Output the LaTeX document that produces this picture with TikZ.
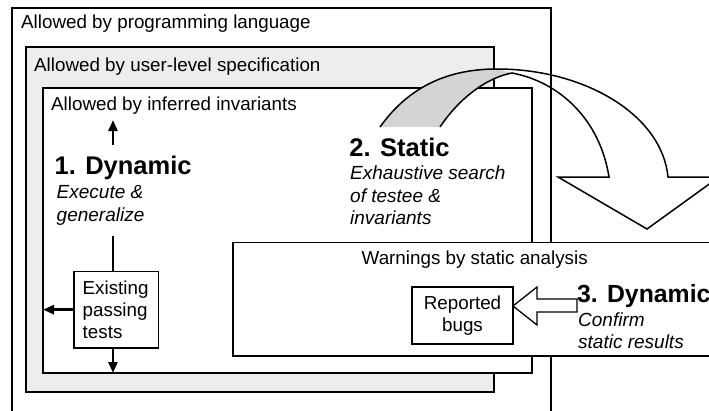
\documentclass[tikz,border=0pt]{standalone}
\usepackage{fontspec}
\setmainfont{Liberation Sans}
\usetikzlibrary{arrows.meta}
\definecolor{boxgray}{HTML}{EDEDED}
\definecolor{bandgray}{HTML}{D4D4D4}
\tikzset{
  box/.style={draw=black, line width=1.1pt, inner sep=0pt, outer sep=0pt, anchor=north west},
  lbl/.style={anchor=base west, inner sep=0pt, font=\fontsize{18.8}{22}\selectfont},
  ctr/.style={anchor=base, inner sep=0pt, font=\fontsize{18.8}{22}\selectfont},
  ital/.style={anchor=base west, inner sep=0pt, font=\fontsize{19}{22}\selectfont\itshape},
  head/.style={anchor=base west, inner sep=0pt, font=\bfseries\fontsize{25.5}{28}\selectfont},
  arr/.style={line width=2.6pt, -{Triangle[length=11pt,width=9pt]}},
  thick line/.style={line width=2.6pt},
  curve/.style={draw=black, line width=1.5pt, line join=miter},
  blockarrow/.style={draw=black, fill=white, line width=1.3pt, line join=miter},
}
\begin{document}
\begin{tikzpicture}[x=1pt,y=-1pt]
\useasboundingbox (0,0) rectangle (709,410);
\clip (0,0) rectangle (709,410);
\fill[white] (0,0) rectangle (709,410);

% nested regions
\node[box, fill=white, minimum width=539pt, minimum height=430pt] (outer) at (12,8) {};
\node[box, fill=boxgray, minimum width=468pt, minimum height=345pt] (spec) at (26,47) {};
\node[box, fill=white, minimum width=489pt, minimum height=285pt] (inv) at (43,88) {};

\node[lbl] (tlang) at (21,28.7) {Allowed by programming language};
\node[lbl] (tspec) at (34,71) {Allowed by user-level specification};
\node[lbl] (tinv) at (51,110) {Allowed by inferred invariants};

% curved (static) arrow
\fill[bandgray] (380,127) .. controls (410,85) and (450,69) .. (497,69)
  -- (512,73) .. controls (485,78) and (458,100) .. (440,127) -- cycle;
\draw[curve] (380,127) .. controls (410,85) and (450,69) .. (497,69)
  .. controls (585,69) and (662,115) .. (668,177)
  -- (719,177) -- (647,229) -- (558,177) -- (609,177)
  .. controls (600,120) and (560,82) .. (512,73)
  .. controls (485,78) and (458,100) .. (440,127);

% step 1
\coordinate (upt) at (113,145);
\coordinate (uph) at (113,120);
\draw[arr] (upt) -- (uph);
\node[head] (dyn1) at (54.4,174.3) {1. Dynamic};
\node[ital] (exe1) at (56.5,198.3) {Execute \&};
\node[ital] (exe2) at (56.5,221) {generalize};

\node[box, fill=white, minimum width=84.5pt, minimum height=76.7pt] (ept) at (74,271.3) {};
\node[lbl] (ept1) at (82.5,294.3) {Existing};
\node[lbl] (ept2) at (82.5,316.3) {passing};
\node[lbl] (ept3) at (82.5,338.3) {tests};
\coordinate (col) at (113,236);
\draw[thick line] (col) -- (col |- ept.north);
\draw[arr] (ept.west) -- (ept.west -| inv.west);
\draw[arr] (col |- ept.south) -- (col |- inv.south);

% step 2
\node[head] (st2) at (349.2,156) {2. Static};
\node[ital] (st2a) at (350,179.3) {Exhaustive search};
\node[ital] (st2b) at (350,202) {of testee \&};
\node[ital] (st2c) at (350,224.7) {invariants};

% warnings
\node[box, fill=white, minimum width=500pt, minimum height=113.5pt] (warn) at (233,242.5) {};
\node[lbl] (twarn) at (361.5,264) {Warnings by static analysis};
\node[box, fill=white, minimum width=101pt, minimum height=57pt] (rb) at (412,287) {};
\node[ctr] (rb1) at (462.5,309.3) {Reported};
\node[ctr] (rb2) at (462.5,331) {bugs};

% step 3
\draw[blockarrow] (rb.east |- 0,306) -- (537,287) -- (537,299) -- (577,299)
  -- (577,312) -- (537,312) -- (537,325) -- cycle;
\node[head, font=\bfseries\fontsize{24.8}{28}\selectfont] (dyn3) at (577,302.3) {3. Dynamic};
\node[ital] (cf1) at (578,326.7) {Confirm};
\node[ital] (cf2) at (578,348.5) {static results};
\end{tikzpicture}
\end{document}
